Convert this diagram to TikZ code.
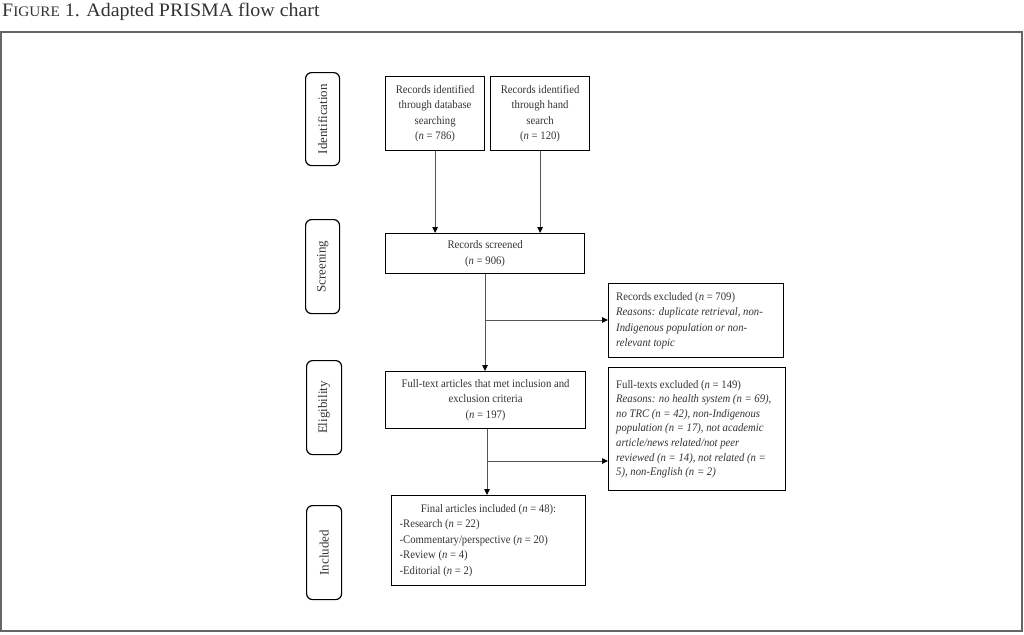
\documentclass[tikz,border=0pt]{standalone}
\usepackage{fontspec}
\setmainfont{Liberation Serif}
\newfontfamily\boxfont[FakeStretch=0.93]{Liberation Serif}
\newfontfamily\titlefont[FakeStretch=1.05]{Liberation Serif}
\usetikzlibrary{arrows.meta}
\definecolor{txt}{HTML}{333333}
\definecolor{conn}{HTML}{555555}
\definecolor{frame}{HTML}{666666}
\tikzset{
  x=1pt, y=-1pt,
  box/.style={draw=black, line width=1.2pt, text=txt, font=\boxfont\fontsize{11.5}{15.5}\selectfont, inner sep=0pt, anchor=north west},
  boxtext/.style={text=txt, font=\boxfont\fontsize{11.5}{15.5}\selectfont, inner sep=0pt, align=left, anchor=west},
  stage/.style={draw=black, line width=1.2pt, rounded corners=6pt, inner sep=0pt, anchor=north west},
  stagetext/.style={rotate=90, text=txt, font=\fontsize{13}{15}\selectfont, inner sep=0pt},
  conn/.style={draw=conn, line width=0.8pt},
  arr/.style={conn, -{Triangle[length=6pt,width=5.5pt,fill=black,color=black]}},
}
\begin{document}
\begin{tikzpicture}
\useasboundingbox (0,0) rectangle (1024,634);
\node[anchor=base west, inner sep=0pt, text=txt, font=\titlefont\fontsize{19}{21}\selectfont] (title) at (2,17) {F{\fontsize{14.5}{16}\selectfont IGURE} 1. Adapted PRISMA flow chart};
\draw[draw=frame, line width=1.4pt] (1,32) rectangle (1022,631);

% stage labels
\node[stage, minimum width=34pt, minimum height=93pt] (sid) at (305,72) {};
\node[stagetext] (sidt) at (sid.center) {Identification};
\node[stage, minimum width=34pt, minimum height=94pt] (sscr) at (305,219) {};
\node[stagetext] (sscrt) at (sscr.center) {Screening};
\node[stage, minimum width=35pt, minimum height=94pt] (sel) at (306,360) {};
\node[stagetext] (selt) at (sel.center) {Eligibility};
\node[stage, minimum width=35pt, minimum height=94pt] (sinc) at (306,505) {};
\node[stagetext] (sinct) at (sinc.center) {Included};

% boxes
\node[box, minimum width=99pt, minimum height=74pt, align=center] (db) at (385,76)
  {Records identified\\through database\\searching\\(\textit{n} = 786)};
\node[box, minimum width=99pt, minimum height=74pt, align=center] (hand) at (490,76)
  {Records identified\\through hand\\search\\(\textit{n} = 120)};
\node[box, minimum width=199pt, minimum height=40pt, align=center] (scr) at (385,233)
  {Records screened\\(\textit{n} = 906)};
\node[box, minimum width=175pt, minimum height=74pt] (exc1) at (608,283) {};
\node[boxtext] (exc1t) at ([xshift=8pt]exc1.west)
  {Records excluded (\textit{n} = 709)\\\textit{Reasons: duplicate retrieval, non-}\\\textit{Indigenous population or non-}\\\textit{relevant topic}};
\node[box, minimum width=200pt, minimum height=57pt, align=center] (full) at (385,371)
  {Full-text articles that met inclusion and\\exclusion criteria\\(\textit{n} = 197)};
\node[box, minimum width=177pt, minimum height=123pt] (exc2) at (608,367) {};
\node[boxtext, font=\boxfont\fontsize{11.5}{14.6}\selectfont] (exc2t) at ([xshift=8pt]exc2.west)
  {Full-texts excluded (\textit{n} = 149)\\\textit{Reasons: no health system (n = 69),}\\\textit{no TRC (n = 42), non-Indigenous}\\\textit{population (n = 17), not academic}\\\textit{article/news related/not peer}\\\textit{reviewed (n = 14), not related (n =}\\\textit{5), non-English (n = 2)}};
\node[box, minimum width=194pt, minimum height=90pt, align=flush left, inner xsep=8pt, text width=178pt] (fin) at (391,495)
  {\hspace*{\fill}Final articles included (\textit{n} = 48):\hspace*{\fill}\null\\-Research (\textit{n} = 22)\\-Commentary/perspective (\textit{n} = 20)\\-Review (\textit{n} = 4)\\-Editorial (\textit{n} = 2)};

% connectors
\draw[arr] (db.south) -- (db.south |- scr.north);
\draw[arr] (hand.south) -- (hand.south |- scr.north);
\coordinate (b1) at (485,320);
\draw[arr] (scr.south -| b1) -- (full.north -| b1);
\draw[arr] (b1) -- (b1 -| exc1.west);
\coordinate (b2) at (487,461);
\draw[arr] (full.south -| b2) -- (fin.north -| b2);
\draw[arr] (b2) -- (b2 -| exc2.west);
\end{tikzpicture}
\end{document}
